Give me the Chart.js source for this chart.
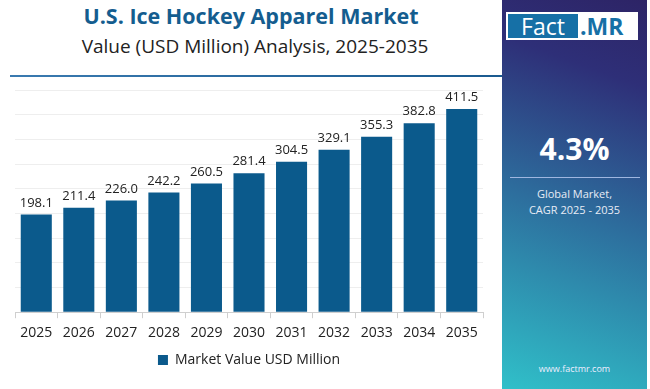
<!DOCTYPE html>
<html>
<head>
<meta charset="utf-8">
<script src="https://cdn.jsdelivr.net/npm/chart.js@4"></script>
<style>
  body { margin: 0; width: 650px; height: 389px; background: #fff; font-family: 'Open Sans', sans-serif; position: relative; overflow: hidden; }
  .title { position: absolute; left: 0; width: 502px; top: 1px; text-align: center; font-weight: 700; font-size: 21.5px; color: #145d8f; }
  .subtitle { position: absolute; left: 0; width: 510px; top: 33px; text-align: center; font-size: 19px; color: #222; }
  .rule { position: absolute; left: 10px; top: 75px; width: 492px; height: 2px; background: linear-gradient(90deg, #3a7ab0, #1a5a8f); }
  .chart-box { position: absolute; left: 0; top: 82px; width: 500px; height: 300px; }
  .panel { position: absolute; left: 502px; top: 0; width: 145px; height: 389px; background: linear-gradient(20deg, #30c0c9 0%, #2d6f9e 45%, #2e2f78 80%, #2d2466 100%); color: #fff; text-align: center; }
  .logo { position: absolute; left: 4px; top: 12px; width: 128px; height: 24px; background: #fff; border: 2px solid #fff; display: flex; }
  .logo .fact { background: #1670a6; color: #fff; width: 70px; font-size: 23px; line-height: 24px; }
  .logo .mr { color: #1670a6; font-weight: 700; font-size: 23px; line-height: 24px; padding-left: 2px; }
  .cagr { position: absolute; left: 0; width: 145px; top: 128px; font-size: 30px; font-weight: 700; }
  .cagr-rule { position: absolute; left: 8px; top: 177px; width: 130px; height: 1px; background: #9fb6e0; }
  .cagr-text { position: absolute; left: 0; width: 145px; top: 186px; font-size: 11px; line-height: 16px; color: #e8ecf6; }
  .site { position: absolute; left: 0; width: 145px; top: 362px; font-size: 9px; color: #eef; }
</style>
</head>
<body>
<div class="title">U.S. Ice Hockey Apparel Market</div>
<div class="subtitle">Value (USD Million) Analysis, 2025-2035</div>
<div class="rule"></div>
<div class="chart-box"><canvas id="chart"></canvas></div>
<div class="panel">
  <div class="logo"><div class="fact">Fact</div><div class="mr">.MR</div></div>
  <div class="cagr">4.3%</div>
  <div class="cagr-rule"></div>
  <div class="cagr-text">Global Market,<br>CAGR 2025 - 2035</div>
  <div class="site">www.factmr.com</div>
</div>
<script>
const years = ['2025', '2026', '2027', '2028', '2029', '2030', '2031', '2032', '2033', '2034', '2035'];
const marketValues = [198.1, 211.4, 226.0, 242.2, 260.5, 281.4, 304.5, 329.1, 355.3, 382.8, 411.5];
const seriesLabel = 'Market Value USD Million';

// draws the value above each bar
const valueLabels = {
  id: 'valueLabels',
  afterDatasetsDraw(chart) {
    const ctx = chart.ctx;
    const meta = chart.getDatasetMeta(0);
    ctx.save();
    ctx.font = '13px "Open Sans", sans-serif';
    ctx.fillStyle = '#222';
    ctx.textAlign = 'center';
    ctx.textBaseline = 'bottom';
    meta.data.forEach((bar, i) => {
      ctx.fillText(marketValues[i].toFixed(1), bar.x, bar.y - 5);
    });
    ctx.restore();
  }
};

new Chart(document.getElementById('chart'), {
  type: 'bar',
  data: {
    labels: years,
    datasets: [{
      label: seriesLabel,
      data: marketValues,
      backgroundColor: '#0b5a8c',
      categoryPercentage: 0.73,
      barPercentage: 1
    }]
  },
  options: {
    responsive: true,
    maintainAspectRatio: false,
    animation: false,
    layout: { padding: { left: 15, right: 17, top: 8, bottom: 5 } },
    scales: {
      x: {
        grid: { display: true, drawOnChartArea: false, tickLength: 6, color: '#cfcfcf' },
        border: { color: '#cfcfcf' },
        ticks: { color: '#222', font: { family: 'Open Sans', size: 14 }, padding: 6, maxRotation: 0 }
      },
      y: {
        min: 0,
        max: 450,
        ticks: { stepSize: 50, display: false },
        grid: { color: '#eeeeee', drawTicks: false },
        border: { display: false }
      }
    },
    plugins: {
      legend: {
        position: 'bottom',
        labels: { boxWidth: 10, boxHeight: 10, color: '#222', font: { family: 'Open Sans', size: 14 }, padding: 6 }
      },
      tooltip: { enabled: false }
    }
  },
  plugins: [valueLabels]
});
</script>
</body>
</html>
